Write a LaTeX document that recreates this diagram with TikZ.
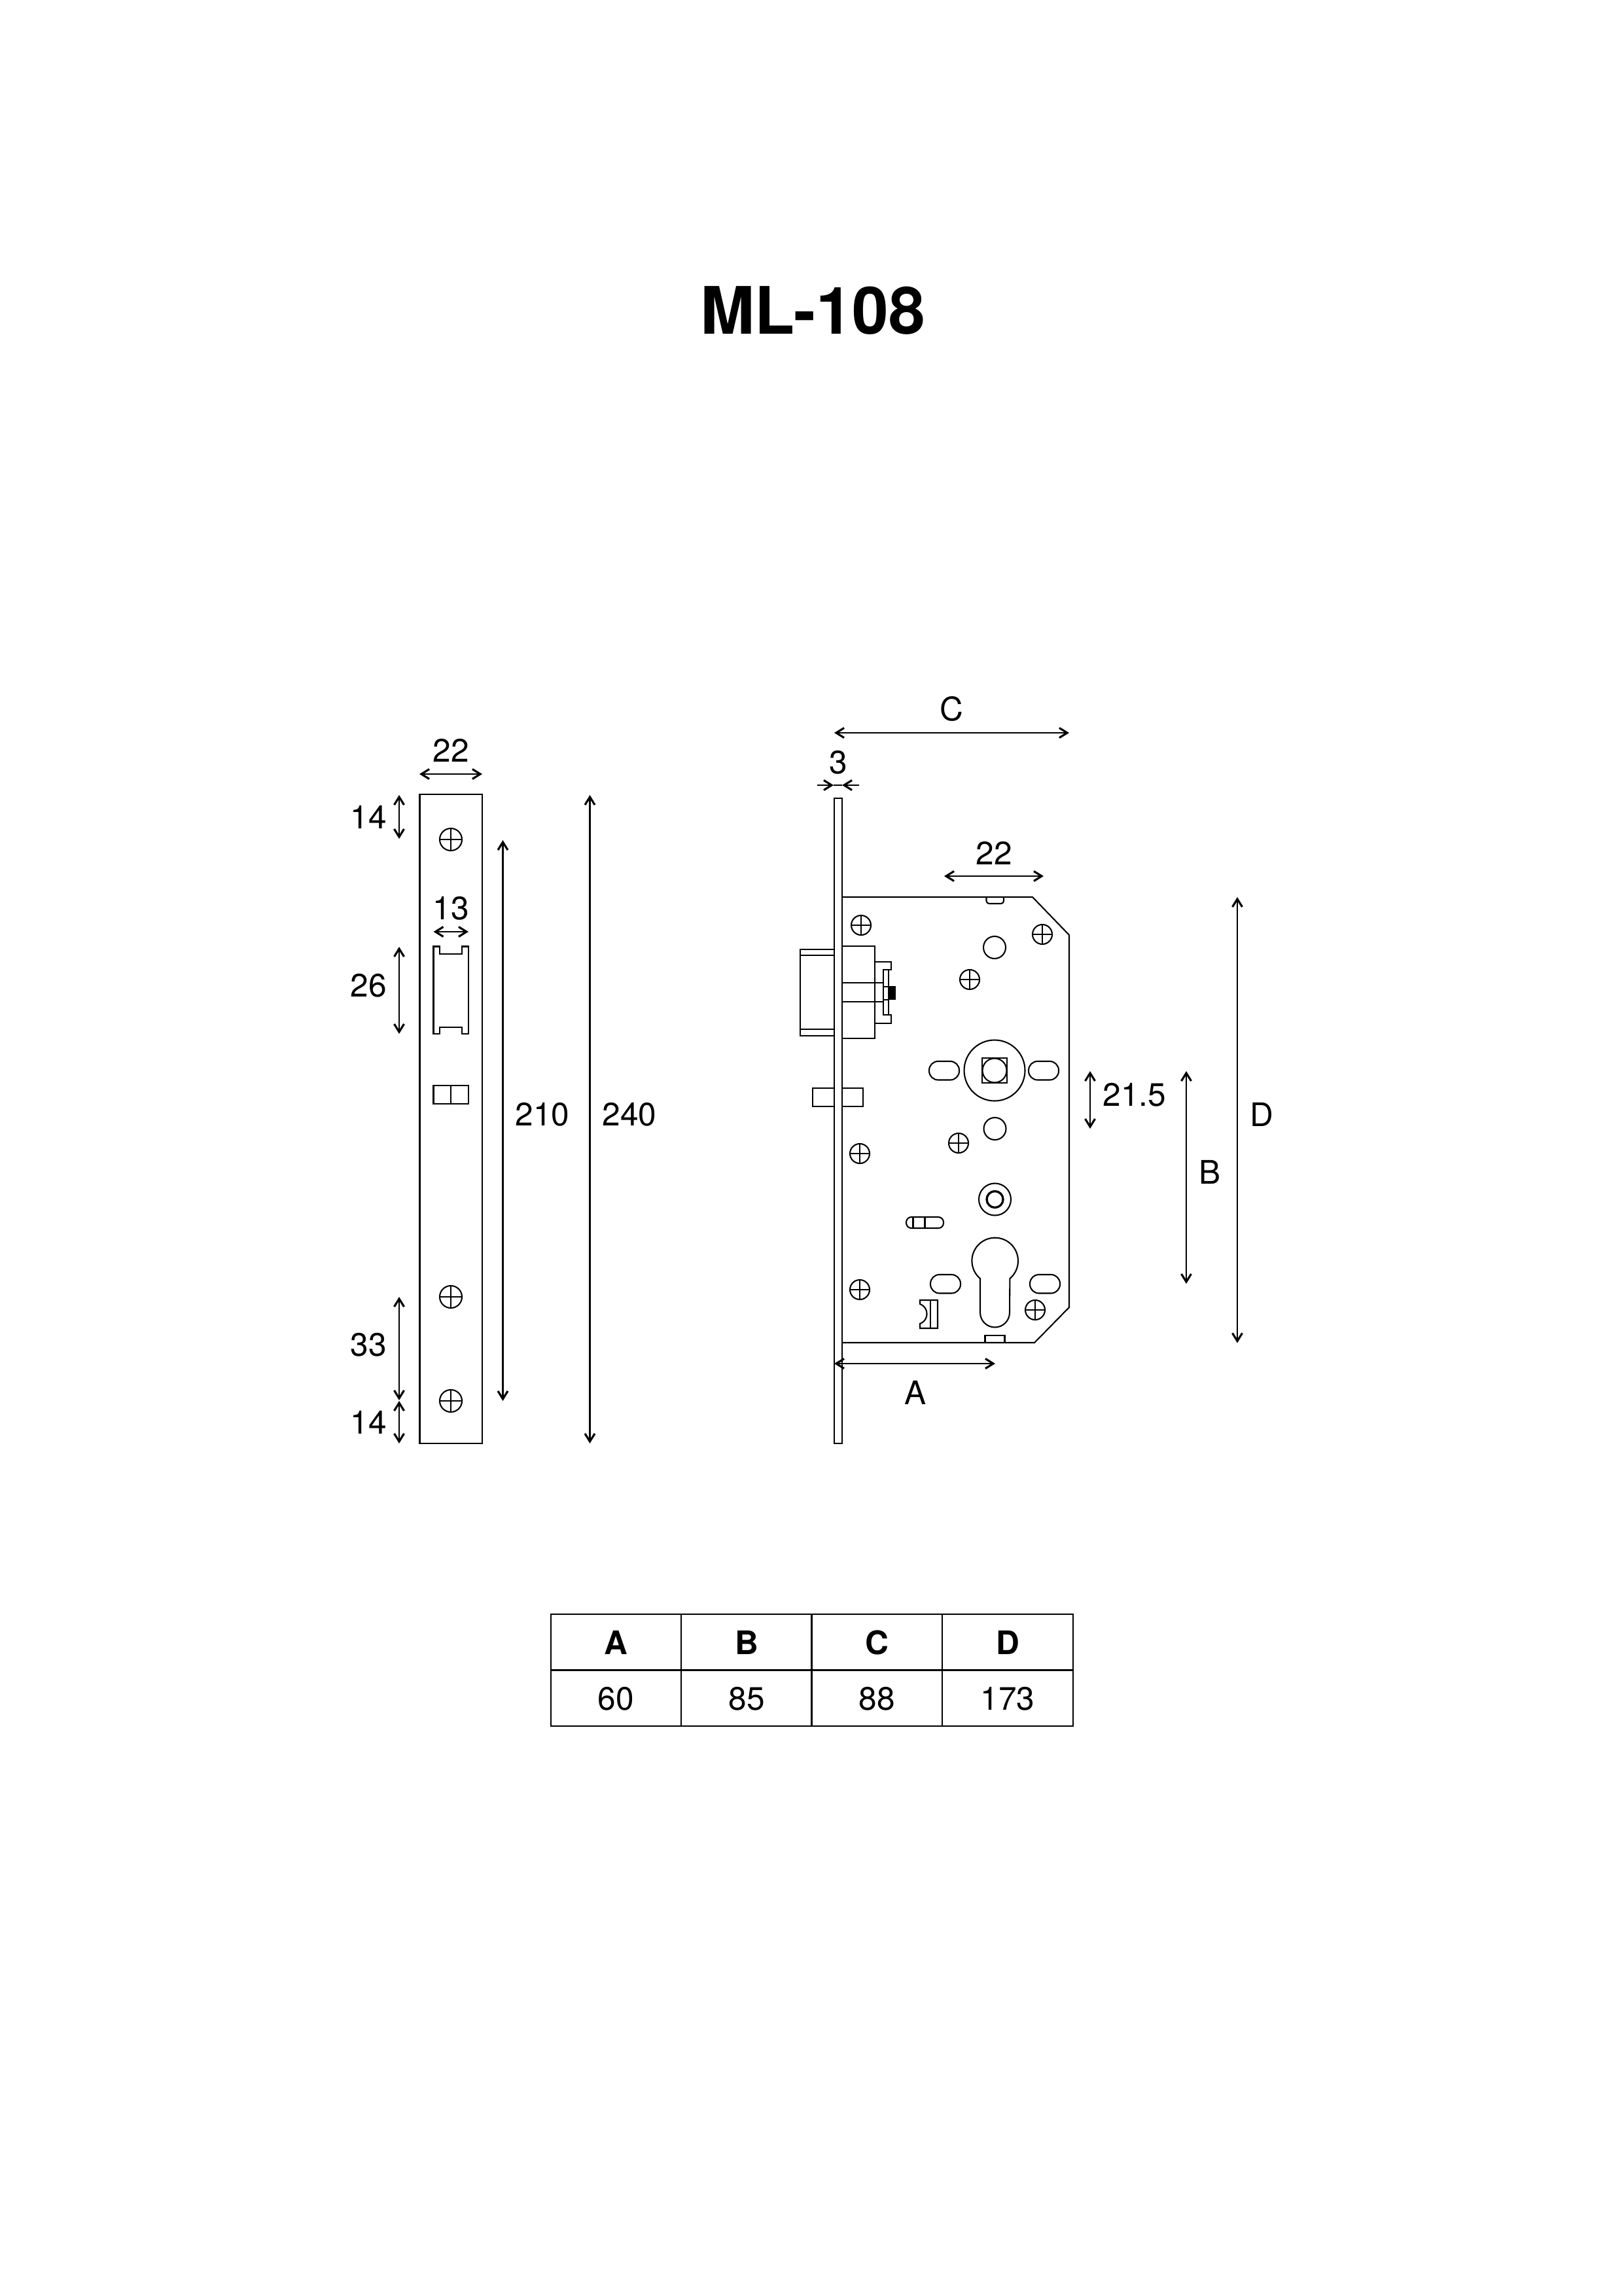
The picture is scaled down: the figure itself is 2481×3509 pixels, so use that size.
\documentclass[tikz,border=0pt]{standalone}
\usepackage{fontspec}
\setmainfont{TeX Gyre Heros}
\usetikzlibrary{arrows.meta}
\tikzset{
	dimline/.style={<->,line width=0.52pt},
	dimtext/.style={inner sep=0pt,font=\fontsize{11.9}{14}\selectfont},
	headtext/.style={inner sep=0pt,font=\fontsize{11.9}{14}\selectfont\bfseries},
	part/.style={line width=0.5pt},
}
\begin{document}
\begin{tikzpicture}[x=0.24pt,y=-0.24pt,>={Straight Barb[length=2.9pt,width=3.6pt,line width=0.75pt]},line join=miter]
	\useasboundingbox (0,0) rectangle (2481,3509);
	\node[inner sep=0pt,font=\fontsize{24}{28}\selectfont\bfseries] (title) at (1242,475) {ML-108};

	% Strike plate
	\draw[part] (641.5,1214) rectangle (737,2206);
	\foreach \y in {1283,1982,2141} {
		\draw[part] (689,\y) circle[radius=17];
		\draw[part] (672,\y)--(706,\y) (689,\y-17)--(689,\y+17);
	}
	\draw[part] (662.5,1446.5)--(672,1446.5)--(672,1458)--(706,1458)--(706,1446.5)--(716,1446.5)--(716,1580)--(706,1580)--(706,1570)--(672,1570)--(672,1580)--(662.5,1580)--cycle;
	\draw[part] (662.5,1659) rectangle (716,1687) (689,1659)--(689,1687);

	% Strike plate dimensions
	\draw[dimline] (641,1183)--(737,1183);
	\node[dimtext] (wplate) at (689,1147) {22};
	\draw[dimline] (662.5,1424)--(716,1424);
	\node[dimtext] (wslot) at (689,1388) {13};
	\draw[dimline] (610,1215)--(610,1282);
	\node[dimtext] (htop) at (563,1249) {14};
	\draw[dimline] (610,1447)--(610,1580);
	\node[dimtext] (hslot) at (563,1506) {26};
	\draw[dimline] (610,1982)--(610,2140);
	\node[dimtext] (hscrew) at (563,2055) {33};
	\draw[dimline] (610,2141)--(610,2206);
	\node[dimtext] (hbot) at (563,2174) {14};
	\draw[dimline] (768.5,1284)--(768.5,2141);
	\node[dimtext] (hinner) at (829,1703) {210};
	\draw[dimline] (901.5,1215)--(901.5,2206);
	\node[dimtext] (houter) at (962,1703) {240};

	% Lock case
	\draw[part] (1275,1220) rectangle (1287,2206);
	\draw[part] (1287,1371)--(1578,1371)--(1634,1429)--(1634,1998)--(1581,2052)--(1287,2052);
	\draw[part,rounded corners=1pt] (1507.5,1371)--(1507.5,1381)--(1534,1381)--(1534,1371);
	\draw[part] (1505.5,2052)--(1505.5,2041)--(1535.5,2041)--(1535.5,2052);

	% Screws
	\foreach \x/\y in {1316/1414,1593/1428,1482/1497,1465/1747,1314/1763,1314/1971,1582/2002} {
		\draw[part] (\x,\y) circle[radius=15];
		\draw[part] (\x-15,\y)--(\x+15,\y) (\x,\y-15)--(\x,\y+15);
	}
	\draw[part] (1520,1448) circle[radius=17] (1520.5,1725) circle[radius=17];

	% Latch and bolt
	\draw[part] (1275,1451)--(1223,1451)--(1223,1583)--(1275,1583);
	\draw[part] (1223,1460)--(1275,1460) (1223,1573)--(1275,1573);
	\draw[part] (1287,1446)--(1337,1446)--(1337,1587)--(1287,1587);
	\draw[part] (1287,1502)--(1350,1502) (1287,1531)--(1350,1531);
	\draw[part] (1337,1470)--(1362,1470)--(1362,1482)--(1350,1482)--(1350,1551)--(1362,1551)--(1362,1564)--(1337,1564);
	\draw[part] (1358,1482)--(1358,1551) (1350,1508)--(1358,1508) (1350,1528)--(1358,1528);
	\fill (1357,1507) rectangle (1369,1528);
	\draw[part] (1275,1663)--(1242,1663)--(1242,1691)--(1275,1691);
	\draw[part] (1287,1663)--(1319,1663)--(1319,1691)--(1287,1691);

	% Follower
	\draw[part] (1520,1636) circle[radius=46.5] (1520,1636) circle[radius=18.5];
	\draw[part] (1501,1617) rectangle (1539,1655);
	\foreach \x/\y in {1420/1622,1572/1622,1422/1948,1574/1948} {
		\draw[part,rounded corners=3.3pt] (\x,\y) rectangle (\x+46,\y+28.5);
	}

	% Ring and small slot
	\draw[part] (1520.5,1833) circle[radius=24.5];
	\draw[line width=0.8pt] (1520.5,1833) circle[radius=12.5];
	\draw[part,rounded corners=1.9pt] (1385,1860) rectangle (1442,1877);
	\draw[part] (1395.5,1860)--(1395.5,1877) (1413.5,1860)--(1413.5,1877);

	% Cylinder hole
	\draw[part] (1498,1954) arc[start angle=130,end angle=410,radius=35.3]--(1543,2006) arc[start angle=0,end angle=180,radius=22.5]--cycle;

	% Clip
	\draw[part] (1406,1987)--(1433,1987)--(1433,2030)--(1406,2030)--(1406,2023) arc[start angle=70,end angle=-70,radius=16]--cycle;
	\draw[part] (1422,1987)--(1422,2030);

	% Lock dimensions
	\draw[dimline] (1275,1120)--(1634,1120);
	\node[dimtext] (dimC) at (1454,1083) {C};
	\draw[->,part] (1249,1200)--(1274,1200);
	\draw[->,part] (1313,1200)--(1287,1200);
	\draw[part] (1274,1200)--(1287,1200);
	\node[dimtext] (wface) at (1281,1165) {3};
	\draw[dimline] (1443,1339)--(1595,1339);
	\node[dimtext] (wcyl) at (1519,1304) {22};
	\draw[dimline] (1275,2084)--(1521,2084);
	\node[dimtext] (dimA) at (1399,2128) {A};
	\draw[dimline] (1666,1637)--(1666,1725);
	\node[dimtext] (hfollow) at (1734,1673) {21.5};
	\draw[dimline] (1813,1637)--(1813,1962);
	\node[dimtext] (dimB) at (1849,1791) {B};
	\draw[dimline] (1891,1371)--(1891,2052.5);
	\node[dimtext] (dimD) at (1928,1703) {D};

	% Table
	\draw[part] (842,2467) rectangle (1640,2638) (842,2552.5)--(1640,2552.5);
	\foreach \x in {1041,1240.5,1440} {
		\draw[part] (\x,2467)--(\x,2638);
	}
	\foreach \n/\x/\h/\v in {A/941.5/A/60,B/1141/B/85,C/1340/C/88,D/1540/D/173} {
		\node[headtext] (head\n) at (\x,2510) {\h};
		\node[dimtext] (val\n) at (\x,2596) {\v};
	}
\end{tikzpicture}
\end{document}
